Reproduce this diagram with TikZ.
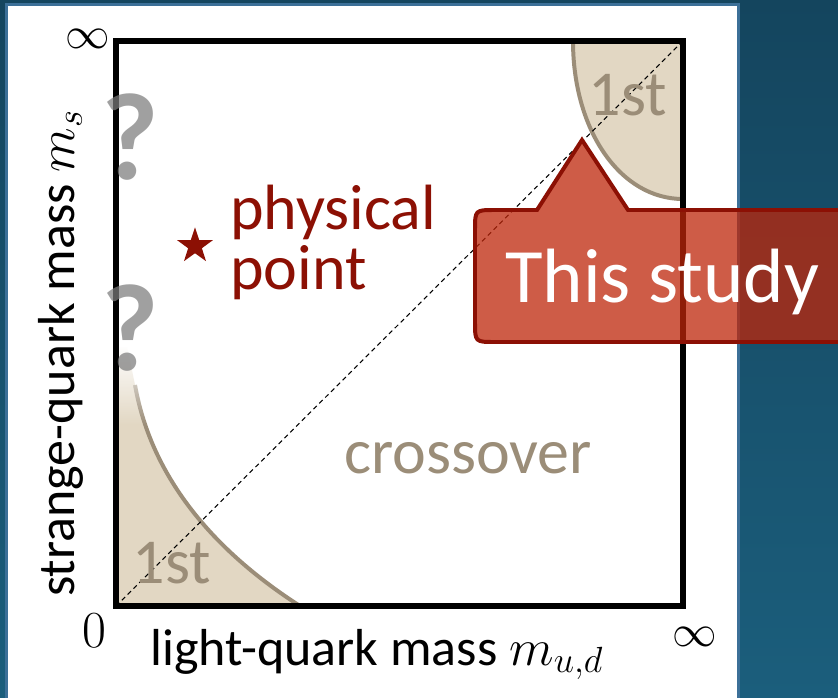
\RequirePackage{fix-cm}
\documentclass[tikz,border=0pt]{standalone}
\usepackage{fontspec}
\setmainfont{Carlito}
\usetikzlibrary{shapes.geometric,fadings}
\definecolor{slidetop}{RGB}{20,69,94}
\definecolor{slidebot}{RGB}{27,94,124}
\definecolor{panelrim}{RGB}{60,112,152}
\definecolor{firstfill}{RGB}{226,215,195}
\definecolor{firstline}{RGB}{155,141,120}
\definecolor{physred}{RGB}{140,16,4}
\definecolor{calloutfill}{RGB}{190,38,10}
\definecolor{qgray}{RGB}{124,124,124}
\newcommand{\regionsize}{\fontsize{54.6}{51}\selectfont}
\newcommand{\axissize}{\fontsize{44.4}{50}\selectfont}
\newcommand{\studysize}{\fontsize{65.7}{72}\selectfont}
\newcommand{\qsize}{\fontsize{106}{110}\selectfont\bfseries}
\tikzset{
  frame/.style={line width=5.1pt,line join=miter},
  boundary/.style={draw=firstline,line width=3.4pt},
  diag/.style={dash pattern=on 4pt off 3pt,line width=0.9pt},
  regionlbl/.style={text=firstline,font=\regionsize,inner sep=0pt,anchor=base},
  physlbl/.style={text=physred,font=\regionsize,inner sep=0pt,align=left},
  axislbl/.style={font=\axissize,inner sep=0pt},
  qmark/.style={text=qgray,text opacity=0.72,font=\qsize,inner sep=0pt},
  callout/.style={fill=calloutfill,fill opacity=0.75,draw=physred,line width=3.4pt,line join=miter}
}
\begin{document}
\begin{tikzpicture}[x=0.03cm,y=-0.03cm]
  \clip (0,0) rectangle (838,697);
  % slide background and white panel
  \shade[top color=slidetop,bottom color=slidebot] (0,0) rectangle (838,697);
  \draw[panelrim,fill=white,line width=2.6pt] (6.5,4.5) rectangle (738.5,712);
  % corners of the mass plane
  \coordinate (zero) at (116,606);
  \coordinate (inf) at (683,41);
  % first-order region, heavy quarks
  \fill[firstfill] (573,41) .. controls (573,130) and (620,199) .. (683,199) -- (683,41) -- cycle;
  \draw[boundary] (573,41) .. controls (573,130) and (620,199) .. (683,199);
  % first-order region, light quarks (fades out upwards)
  \fill[firstfill] (118,347) -- (127,347) .. controls (131,365) .. (135,385)
    .. controls (150,470) and (205,545) .. (300,606) -- (118,606) -- cycle;
  \draw[boundary] (135,385) .. controls (150,470) and (205,545) .. (300,606);
  \fill[white,path fading=south] (118,345) rectangle (175,425);
  % diagonal m_s = m_ud
  \draw[diag] (zero) -- (inf);
  % frame
  \draw[frame] (zero) rectangle (inf);
  % region labels
  \node[regionlbl] (firstheavy) at (628,115) {1st};
  \node[regionlbl] (firstlight) at (172,583) {1st};
  \node[regionlbl] (cross) at (468,473) {crossover};
  % physical point
  \node[star,star points=5,star point ratio=2.6,fill=physred,minimum size=32pt,inner sep=0pt] (phys) at (195,246) {};
  \node[physlbl,anchor=north west] (physname) at (230,185) {physical\\point};
  % unknown corner
  \node[qmark] (qtop) at (130,137) {?};
  \node[qmark] (qbot) at (130,328) {?};
  % axes
  \node[axislbl,anchor=base west] (xlbl) at (150,665) {light-quark mass $m_{u,d}$};
  \node[axislbl,anchor=base west,rotate=90] (ylbl) at (74,597) {strange-quark mass $m_s$};
  \node[axislbl] (orig) at (94,631) {$0$};
  \node[axislbl,font=\fontsize{38}{40}\selectfont] (ytop) at (88,39) {$\infty$};
  \node[axislbl,font=\fontsize{38}{40}\selectfont] (xend) at (695,637) {$\infty$};
  % callout
  \draw[callout] (537,210) -- (582,140) -- (628,210) -- (860,210) -- (860,342) -- (495,342)
    .. controls (475,342) .. (475,322) -- (475,230) .. controls (475,210) .. (495,210) -- cycle;
  \node[text=white,font=\studysize,inner sep=0pt,anchor=base west] (study) at (505,302) {This study};
\end{tikzpicture}
\end{document}
